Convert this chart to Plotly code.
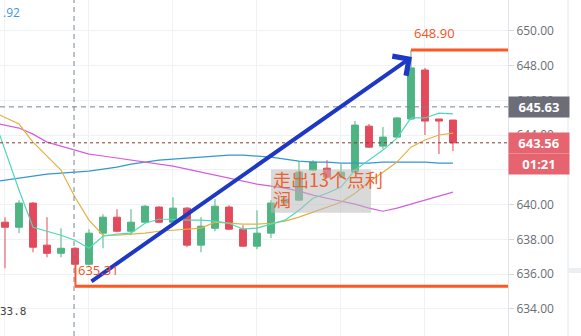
import plotly.graph_objects as go

# ---------------- data ----------------
idx = list(range(33))
opens  = [638.99, 638.70, 640.09, 637.67, 637.20, 637.49, 636.57, 638.36, 639.28, 638.47,
          638.99, 639.86, 638.99, 639.80, 637.67, 638.64, 639.86, 638.59, 637.61, 638.36,
          640.09, 640.26, 641.99, 642.10, 641.58, 641.87, 644.52, 643.37, 643.89, 644.93,
          647.75, 644.93, 644.87]
highs  = [639.28, 640.26, 640.14, 639.28, 638.64, 637.55, 638.59, 639.45, 639.74, 639.74,
          639.97, 639.91, 640.43, 639.86, 639.28, 640.32, 639.97, 638.82, 639.68, 640.26,
          640.43, 642.51, 642.56, 642.56, 642.33, 644.81, 644.64, 644.47, 645.04, 648.90,
          647.87, 644.93, 644.87]
lows   = [636.34, 638.36, 637.26, 636.97, 636.97, 635.31, 636.50, 637.49, 638.41, 638.24,
          638.99, 638.93, 638.93, 637.55, 637.26, 638.47, 638.53, 637.61, 637.43, 638.07,
          639.97, 640.20, 641.93, 641.53, 641.53, 641.82, 643.26, 643.20, 643.85, 644.87,
          644.01, 642.91, 643.08]
closes = [638.70, 640.09, 637.55, 637.20, 637.49, 636.57, 638.36, 639.28, 638.47, 638.99,
          639.91, 638.99, 639.80, 637.67, 638.76, 639.91, 638.59, 637.61, 638.36, 640.09,
          640.32, 641.87, 642.45, 641.58, 641.87, 644.58, 643.31, 643.89, 644.99, 647.87,
          644.81, 644.81, 643.56]

ma_idx = list(range(-1, 33))
ma_teal = [645.45, 643.14, 640.84, 638.70, 638.47, 638.24, 637.95, 637.49, 638.18, 638.30,
           638.36, 638.93, 639.16, 639.16, 639.11, 639.11, 639.05, 638.93, 638.59, 638.65,
           638.88, 639.11, 639.68, 640.37, 640.66, 641.01, 641.99, 642.56, 643.14, 643.83,
           644.99, 644.99, 645.27, 645.22]
ma_gold = [645.40, 645.04, 644.64, 643.60, 642.80, 641.99, 640.43, 639.11, 638.24, 638.24,
           638.30, 638.36, 638.47, 638.53, 638.59, 638.65, 638.99, 638.93, 638.88, 638.88,
           638.93, 639.05, 639.28, 639.57, 639.86, 640.14, 640.66, 641.30, 641.87, 642.45,
           643.31, 643.72, 644.01, 644.12]
ma_blue = [641.30, 641.41, 641.53, 641.64, 641.76, 641.81, 641.87, 641.93, 642.05, 642.16,
           642.33, 642.45, 642.56, 642.62, 642.68, 642.74, 642.79, 642.85, 642.85, 642.79,
           642.74, 642.62, 642.51, 642.45, 642.45, 642.39, 642.39, 642.39, 642.45, 642.45,
           642.45, 642.45, 642.39, 642.39]
ma_magenta = [644.75, 644.58, 644.41, 644.06, 643.60, 643.37, 643.14, 642.91, 642.80, 642.68,
              642.56, 642.45, 642.33, 642.22, 642.05, 641.87, 641.70, 641.53, 641.35, 641.18,
              641.07, 640.95, 640.78, 640.55, 640.37, 640.20, 640.03, 639.80, 639.62, 639.80,
              640.03, 640.26, 640.49, 640.72]

y_ticks = [634, 636, 638, 640, 642, 644, 646, 648, 650]
crosshair_idx = 5
crosshair_price = 645.63
last_price = 643.56
countdown = "01:21"
high_price = 648.90
high_idx = 29
low_price = 635.31
low_idx = 5
arrow_start = (6.07, 635.53)
arrow_end = (29.07, 648.50)
note_line1 = "走出13个点利"
note_line2 = "润"

# ---------------- figure ----------------
GREEN = "#4fb483"
RED = "#e34a5b"
fig = go.Figure()

for vals, col in [(ma_blue, "#3498cf"), (ma_magenta, "#d45ee0"),
                  (ma_gold, "#e2b23f"), (ma_teal, "#4fd8b8")]:
    fig.add_trace(go.Scatter(x=ma_idx, y=vals, mode="lines",
                             line=dict(color=col, width=1.2), hoverinfo="skip"))

fig.add_trace(go.Candlestick(
    x=idx, open=opens, high=highs, low=lows, close=closes,
    increasing=dict(line=dict(color=GREEN, width=1), fillcolor=GREEN),
    decreasing=dict(line=dict(color=RED, width=1), fillcolor=RED),
    whiskerwidth=0, hoverinfo="skip"))

shapes = []
# crosshair
shapes.append(dict(type="line", xref="x", yref="paper", x0=crosshair_idx - 0.07, x1=crosshair_idx - 0.07,
                   y0=0, y1=1, line=dict(color="#758696", width=1, dash="5px,4px")))
shapes.append(dict(type="line", xref="paper", yref="y", x0=0, x1=1, y0=crosshair_price, y1=crosshair_price,
                   line=dict(color="#758696", width=1, dash="5px,4px")))
# last price line
shapes.append(dict(type="line", xref="paper", yref="y", x0=0, x1=1, y0=last_price, y1=last_price,
                   line=dict(color="#8e3434", width=1, dash="3px,3px")))
# high / low orange lines
shapes.append(dict(type="line", xref="x", yref="y", x0=high_idx, x1=35.93, y0=high_price, y1=high_price,
                   line=dict(color="#ff5722", width=3)))
shapes.append(dict(type="line", xref="x", yref="y", x0=low_idx, x1=35.93, y0=low_price, y1=low_price,
                   line=dict(color="#ff5722", width=3)))
shapes.append(dict(type="line", xref="x", yref="y", x0=low_idx + 0.05, x1=low_idx + 0.05,
                   y0=closes[low_idx], y1=low_price, line=dict(color="#ff5722", width=1.5)))
# note box
shapes.append(dict(type="rect", xref="x", yref="y", x0=19.0, x1=26.15, y0=639.53, y1=642.02,
                   line=dict(width=0), fillcolor="rgba(185,185,185,0.55)", layer="above"))
# right panel border
shapes.append(dict(type="line", xref="paper", yref="paper", x0=568 / 508, x1=568 / 508, y0=0, y1=1,
                   line=dict(color="#e3e6ea", width=1)))
shapes.append(dict(type="rect", xref="paper", yref="paper", x0=568 / 508, x1=581 / 508,
                   y0=1 - 273 / 336, y1=1 - 268 / 336, line=dict(width=0), fillcolor="#eceff2"))

annotations = []
# arrow
annotations.append(dict(x=arrow_end[0], y=arrow_end[1], ax=arrow_start[0], ay=arrow_start[1],
                        xref="x", yref="y", axref="x", ayref="y", text="", showarrow=True,
                        arrowhead=4, arrowsize=1.15, arrowwidth=4, arrowcolor="#1d38c4", standoff=0))
# right price boxes
annotations.append(dict(x=1, xref="paper", y=crosshair_price, yref="y", xanchor="left",
                        text=f"<b>{crosshair_price:.2f}</b>", showarrow=False, bgcolor="#6b6e78",
                        width=60, height=20, borderpad=0, font=dict(color="white", size=13, family="Open Sans")))
annotations.append(dict(x=1, xref="paper", y=last_price, yref="y", xanchor="left",
                        text=f"<b>{last_price:.2f}</b>", showarrow=False, bgcolor="#e6646f",
                        width=60, height=20, borderpad=0, font=dict(color="white", size=13, family="Open Sans")))
annotations.append(dict(x=1, xref="paper", y=last_price, yref="y", xanchor="left", yshift=-21,
                        text=f"<b>{countdown}</b>", showarrow=False, bgcolor="#e6646f",
                        width=60, height=20, borderpad=0, font=dict(color="white", size=13, family="Open Sans")))
# high / low labels
annotations.append(dict(x=high_idx, y=649.88, xref="x", yref="y", xanchor="left", xshift=1,
                        text=f"{high_price:.2f}", showarrow=False,
                        font=dict(color="#f4511e", size=13, family="Open Sans")))
annotations.append(dict(x=low_idx, y=636.24, xref="x", yref="y", xanchor="left", xshift=1,
                        text=f"{low_price:.2f}", showarrow=False,
                        font=dict(color="#f4511e", size=13, family="Open Sans")))
# note text
annotations.append(dict(x=19.0, y=641.50, xref="x", yref="y", xanchor="left", xshift=0,
                        text=note_line1, showarrow=False,
                        font=dict(color="#f0602f", size=18, family="Noto Sans CJK SC")))
annotations.append(dict(x=19.0, y=640.33, xref="x", yref="y", xanchor="left", xshift=0,
                        text=note_line2, showarrow=False,
                        font=dict(color="#f0602f", size=18, family="Noto Sans CJK SC")))
# cut-off edge labels
annotations.append(dict(x=0, xref="paper", y=651.04, yref="y", xanchor="left", xshift=1,
                        text=".92", showarrow=False, font=dict(color="#3a9ad9", size=12, family="Open Sans")))
annotations.append(dict(x=0, xref="paper", y=633.85, yref="y", xanchor="left", xshift=-2,
                        text="33.8", showarrow=False, font=dict(color="#444", size=11, family="DejaVu Sans Mono")))

grid_x = [-0.07 + 6 * k for k in range(6)]

fig.update_layout(
    width=581, height=336, margin=dict(l=0, r=73, t=0, b=0),
    plot_bgcolor="white", paper_bgcolor="white", showlegend=False,
    shapes=shapes, annotations=annotations,
    xaxis=dict(range=[-0.357, 35.93], rangeslider=dict(visible=False), tickvals=grid_x,
               showticklabels=False, showgrid=True, gridcolor="#eff2f5", zeroline=False, ticks=""),
    yaxis=dict(range=[632.44, 651.78], side="right", tickvals=y_ticks,
               ticktext=[f"{v:.2f}" for v in y_ticks], showgrid=True, gridcolor="#eff2f5",
               zeroline=False, ticks="outside", ticklen=5, tickcolor="#d5d8dd",
               showline=True, linecolor="#e0e3eb", linewidth=1,
               tickfont=dict(color="#6a6d74", size=12, family="Open Sans")),
)

fig.write_html("out.html")
